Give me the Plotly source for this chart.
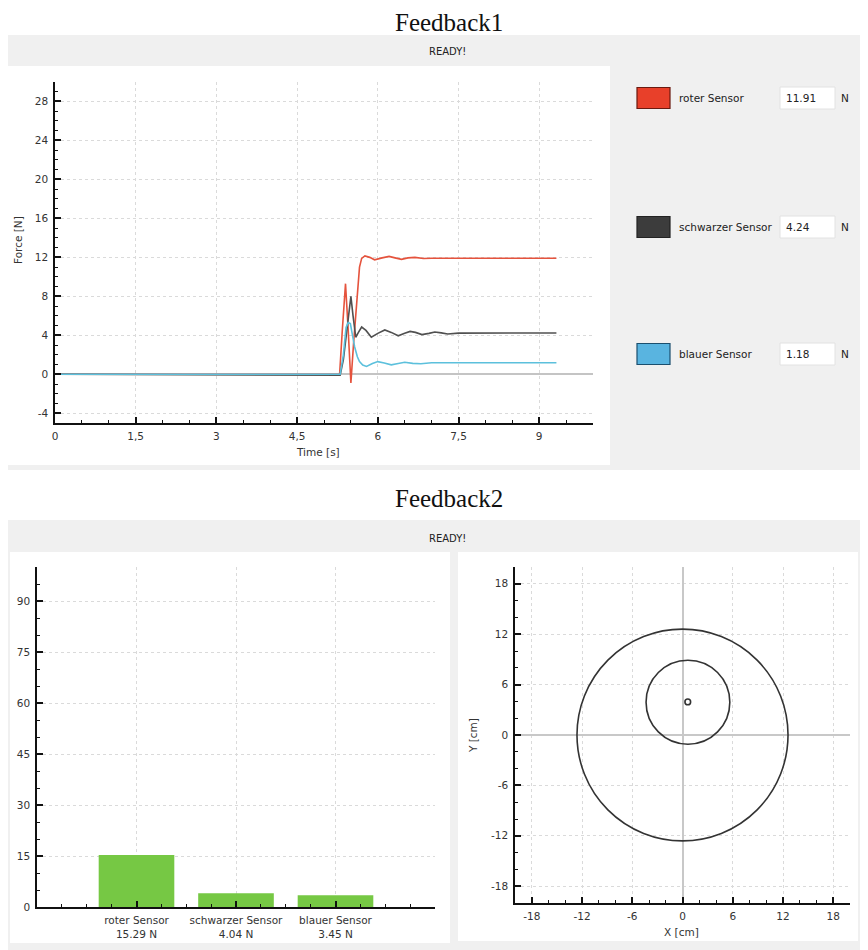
import plotly.graph_objects as go

# page body adds an 8px margin; the figure is laid out in page pixels and shifted back
OFF = 8
W, H = 868 - OFF, 950 - OFF

# ---------------- data ----------------
red_time = [0, 5.29, 5.34, 5.40, 5.45, 5.50, 5.55, 5.61, 5.66, 5.70, 5.76, 5.85, 5.94, 6.08,
            6.21, 6.32, 6.44, 6.56, 6.69, 6.85, 7.0, 9.32]
red_force = [0, 0, 4.5, 9.3, 4.5, -0.9, 3.2, 8.0, 11.0, 11.9, 12.15, 12.0, 11.75, 11.95,
             12.1, 11.95, 11.8, 11.95, 12.0, 11.88, 11.91, 11.91]

black_time = [0, 5.30, 5.36, 5.42, 5.46, 5.50, 5.54, 5.59, 5.64, 5.70, 5.78, 5.88, 6.0, 6.13,
              6.25, 6.38, 6.5, 6.6, 6.7, 6.82, 6.95, 7.06, 7.18, 7.3, 7.5, 9.32]
black_force = [0, -0.1, 1.5, 4.5, 6.5, 8.0, 6.0, 3.8, 4.3, 4.85, 4.5, 3.8, 4.2, 4.55,
               4.3, 3.95, 4.2, 4.4, 4.3, 4.07, 4.2, 4.34, 4.25, 4.14, 4.22, 4.24]

blue_time = [0, 5.30, 5.36, 5.41, 5.45, 5.49, 5.53, 5.57, 5.62, 5.66, 5.72, 5.79, 5.9, 6.0,
             6.12, 6.25, 6.38, 6.5, 6.65, 6.8, 7.0, 9.32]
blue_force = [0, 0, 2.0, 4.8, 5.3, 5.2, 4.0, 2.8, 1.8, 1.3, 0.95, 0.8, 1.1, 1.3,
              1.15, 0.97, 1.1, 1.23, 1.12, 1.08, 1.18, 1.18]

sensor_names = ["roter Sensor", "schwarzer Sensor", "blauer Sensor"]
current_force = [11.91, 4.24, 1.18]
bar_force = [15.29, 4.04, 3.45]
bar_pos = [1, 2, 3]

time_ticks = [0, 1.5, 3, 4.5, 6, 7.5, 9]
time_tick_text = ["0", "1,5", "3", "4,5", "6", "7,5", "9"]
force_ticks = [-4, 0, 4, 8, 12, 16, 20, 24, 28]
force_tick_text = ["-4", "0", "4", "8", "12", "16", "20", "24", "28"]
bar_ticks = [0, 15, 30, 45, 60, 75, 90]
xy_ticks = [-18, -12, -6, 0, 6, 12, 18]
xy_tick_text = ["-18", "-12", "-6", "0", "6", "12", "18"]

circle_cx = [0, 0.65, 0.63]
circle_cy = [0, 3.9, 3.94]
circle_r = [12.6, 5.0, 0.34]

# ---------------- helpers ----------------
FONT = "DejaVu Sans"
SERIF = "Liberation Serif"
FS = 10.5


def px(x):
    return (x - OFF) / W


def py(y):
    return 1 - (y - OFF) / H


def axis_style(**kw):
    d = dict(showline=True, linecolor="#111111", linewidth=1.5,
             ticks="inside", ticklen=6, tickwidth=1.5, tickcolor="#111111",
             showgrid=True, gridcolor="#dadada", griddash="dot", gridwidth=1,
             tickfont=dict(family=FONT, size=FS, color="#333333"),
             zeroline=False, fixedrange=True, automargin=False,
             ticklabelstandoff=3)
    d.update(kw)
    return d


fig = go.Figure()

# ---- top line chart ----
fig.add_trace(go.Scatter(x=red_time, y=red_force, mode="lines",
                         line=dict(color="#e5533d", width=1.6), xaxis="x", yaxis="y"))
fig.add_trace(go.Scatter(x=black_time, y=black_force, mode="lines",
                         line=dict(color="#505050", width=1.6), xaxis="x", yaxis="y"))
fig.add_trace(go.Scatter(x=blue_time, y=blue_force, mode="lines",
                         line=dict(color="#5cc0dc", width=1.6), xaxis="x", yaxis="y"))

# ---- bar chart ----
fig.add_trace(go.Bar(x=bar_pos, y=bar_force, width=0.76,
                     marker=dict(color="#76c844", line=dict(width=0)),
                     xaxis="x2", yaxis="y2"))

# ---- XY chart (invisible trace to activate axes) ----
fig.add_trace(go.Scatter(x=[circle_cx[0]], y=[circle_cy[0]], mode="markers",
                         marker=dict(size=1, color="rgba(0,0,0,0)"),
                         xaxis="x3", yaxis="y3", hoverinfo="skip"))

shapes = []


def panel(x0, x1, y0, y1, color):
    shapes.append(dict(type="rect", xref="paper", yref="paper", layer="below",
                       x0=px(x0), x1=px(x1), y0=py(y1), y1=py(y0),
                       fillcolor=color, line=dict(width=0)))


panel(5, 868, 35, 470, "#f0f0f0")
panel(7, 610, 66, 465, "#ffffff")
panel(5, 868, 520, 950, "#f0f0f0")
panel(10, 450, 552, 943, "#ffffff")
panel(458, 858, 552, 941, "#ffffff")

# legend boxes
legend_fill = ["#e8402a", "#3c3c3c", "#59b4e0"]
legend_border = ["#6a1a10", "#222222", "#1b4f6e"]
legend_cy = [98, 227, 354]
annotations = []
for i, name in enumerate(sensor_names):
    cy = legend_cy[i]
    shapes.append(dict(type="rect", xref="paper", yref="paper",
                       x0=px(637), x1=px(670), y0=py(cy + 10.5), y1=py(cy - 10.5),
                       fillcolor=legend_fill[i], line=dict(color=legend_border[i], width=1.2)))
    shapes.append(dict(type="rect", xref="paper", yref="paper",
                       x0=px(780), x1=px(835), y0=py(cy + 11), y1=py(cy - 11),
                       fillcolor="#ffffff", line=dict(color="#e2e2e2", width=1)))
    annotations.append(dict(xref="paper", yref="paper", x=px(677), y=py(cy),
                            text=name, showarrow=False, xanchor="left", yanchor="middle",
                            font=dict(family=FONT, size=FS, color="#222222")))
    annotations.append(dict(xref="paper", yref="paper", x=px(784), y=py(cy),
                            text=f"{current_force[i]:.2f}", showarrow=False,
                            xanchor="left", yanchor="middle",
                            font=dict(family=FONT, size=FS, color="#222222")))
    annotations.append(dict(xref="paper", yref="paper", x=px(845), y=py(cy),
                            text="N", showarrow=False, xanchor="center", yanchor="middle",
                            font=dict(family=FONT, size=FS, color="#222222")))

# circles in XY chart
for cx, cy, r in zip(circle_cx, circle_cy, circle_r):
    shapes.append(dict(type="circle", xref="x3", yref="y3",
                       x0=cx - r, x1=cx + r, y0=cy - r, y1=cy + r,
                       line=dict(color="#333333", width=1.6)))


def label(x, y, text, font, angle=0, yanchor="middle"):
    annotations.append(dict(xref="paper", yref="paper", x=px(x), y=py(y), text=text,
                            showarrow=False, xanchor="center", yanchor=yanchor,
                            textangle=angle, font=font, borderpad=0))


title_font = dict(family=SERIF, size=25, color="#111111")
small_font = dict(family=FONT, size=FS, color="#333333")
ready_font = dict(family=FONT, size=10, color="#222222")
label(449, 8, "Feedback1", title_font, yanchor="top")
label(449, 484, "Feedback2", title_font, yanchor="top")
label(447, 52, "READY!", ready_font)
label(447, 538, "READY!", ready_font)
label(318, 452, "Time [s]", small_font)
label(18, 240, "Force [N]", small_font, -90)
label(681, 932, "X [cm]", small_font)
label(473, 735, "Y [cm]", small_font, -90)

bar_tick_text = [f"{n}<br>{v:.2f} N" for n, v in zip(sensor_names, bar_force)]


def minor(dt):
    return dict(dtick=dt, tick0=0, ticks="inside", ticklen=3, tickwidth=1.2,
                tickcolor="#111111", showgrid=False)


fig.update_layout(
    width=W, height=H,
    margin=dict(l=0, r=0, t=0, b=0),
    paper_bgcolor="#ffffff", plot_bgcolor="rgba(0,0,0,0)",
    showlegend=False,
    shapes=shapes, annotations=annotations,
    xaxis=axis_style(domain=[px(55), px(593)], anchor="y", range=[0, 10],
                     tickvals=time_ticks, ticktext=time_tick_text, minor=minor(0.5)),
    yaxis=axis_style(domain=[py(423), py(82)], anchor="x", range=[-5, 30],
                     tickvals=force_ticks, ticktext=force_tick_text,
                     zeroline=True, zerolinecolor="#c4c4c4", zerolinewidth=1.5,
                     minor=minor(1)),
    xaxis2=axis_style(domain=[px(37), px(435)], anchor="y2", range=[0, 4],
                      tickvals=bar_pos, ticktext=bar_tick_text, minor=minor(0.25)),
    yaxis2=axis_style(domain=[py(907), py(567)], anchor="x2", range=[0, 100],
                      tickvals=bar_ticks, minor=minor(5)),
    xaxis3=axis_style(domain=[px(515), px(850)], anchor="y3", range=[-20, 20],
                      tickvals=xy_ticks, ticktext=xy_tick_text,
                      zeroline=True, zerolinecolor="#c8c8c8", zerolinewidth=1.5,
                      minor=minor(2)),
    yaxis3=axis_style(domain=[py(903), py(567)], anchor="x3", range=[-20, 20],
                      tickvals=xy_ticks, ticktext=xy_tick_text,
                      zeroline=True, zerolinecolor="#c8c8c8", zerolinewidth=1.5,
                      minor=minor(2)),
)

fig.write_html("out.html", config={"displayModeBar": False})
